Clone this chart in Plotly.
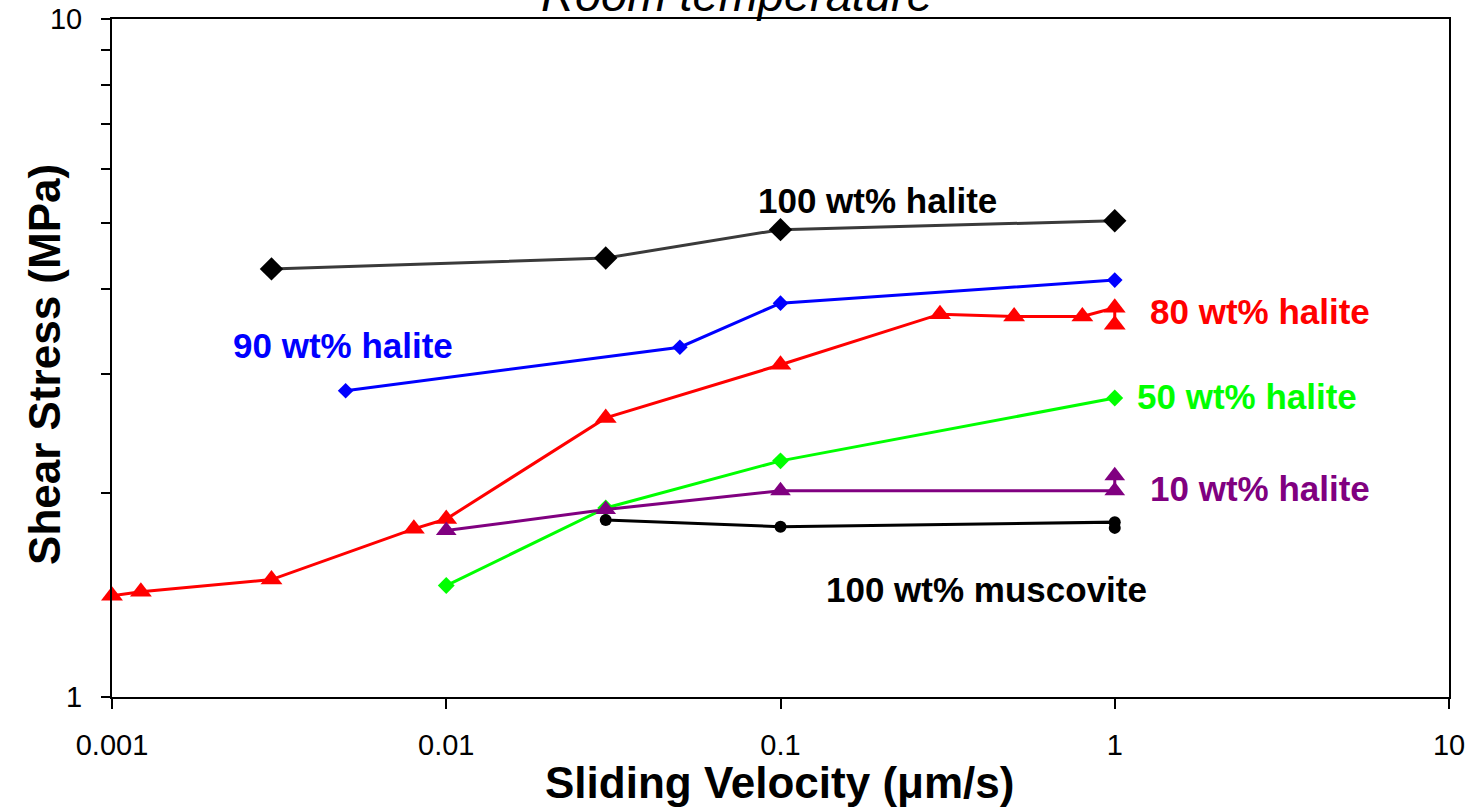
import plotly.graph_objects as go

# Sliding velocity (um/s) and shear stress (MPa) per mixture
halite100_v = [0.003, 0.03, 0.1, 1.0]
halite100_s = [4.28, 4.44, 4.89, 5.04]

halite90_v = [0.005, 0.05, 0.1, 1.0]
halite90_s = [2.83, 3.28, 3.81, 4.12]

halite80_v = [0.001, 0.00122, 0.003, 0.008, 0.01, 0.03, 0.1, 0.3, 0.5, 0.8, 1.0, 1.0]
halite80_s = [1.41, 1.43, 1.49, 1.77, 1.83, 2.58, 3.09, 3.67, 3.64, 3.64, 3.75, 3.54]

halite50_v = [0.01, 0.03, 0.1, 1.0]
halite50_s = [1.46, 1.90, 2.23, 2.76]

halite10_v = [0.01, 0.03, 0.1, 1.0, 1.0]
halite10_s = [1.76, 1.89, 2.015, 2.015, 2.12]

muscovite_v = [0.03, 0.1, 1.0, 1.0]
muscovite_s = [1.824, 1.783, 1.811, 1.776]

x_tick_vals = [0.001, 0.01, 0.1, 1, 10]
x_tick_text = ["0.001", "0.01", "0.1", "1", "10"]
y_tick_vals = [1, 10]
y_tick_text = ["1", "10"]
y_minor_vals = [2, 3, 4, 5, 6, 7, 8, 9]

FONT = "Liberation Sans, Arial, sans-serif"

series = [
    (halite100_v, halite100_s, "#3a3a3a", "#000000", "diamond", 18),
    (halite90_v, halite90_s, "#0000FF", "#0000FF", "diamond", 12),
    (halite80_v, halite80_s, "#FF0000", "#FF0000", "triangle-up", 19),
    (halite50_v, halite50_s, "#00FF00", "#00FF00", "diamond", 13),
    (halite10_v, halite10_s, "#800080", "#800080", "triangle-up", 18),
    (muscovite_v, muscovite_s, "#000000", "#000000", "circle", 12),
]

fig = go.Figure()
for xs, ys, lc, mc, sym, sz in series:
    fig.add_trace(go.Scatter(
        x=xs, y=ys, mode="lines+markers",
        line=dict(color=lc, width=3),
        marker=dict(symbol=sym, size=sz, color=mc, line=dict(width=0)),
        showlegend=False, cliponaxis=False,
    ))

# Series labels (positions in log10 axis units)
labels = [
    ("100 wt% halite", -0.711, 0.733, "center", "#000000"),
    ("90 wt% halite", -2.310, 0.519, "center", "#0000FF"),
    ("80 wt% halite", 0.0995, 0.568, "left", "#FF0000"),
    ("50 wt% halite", 0.0606, 0.4425, "left", "#00FF00"),
    ("10 wt% halite", 0.0995, 0.3068, "left", "#800080"),
    ("100 wt% muscovite", -0.385, 0.158, "center", "#000000"),
]
for text, lx, ly, anchor, col in labels:
    fig.add_annotation(
        x=lx, y=ly, xref="x", yref="y", text=text, showarrow=False,
        xanchor=anchor, yanchor="middle",
        font=dict(family=FONT, size=35, color=col, weight="bold"),
    )

# Title and axis titles
fig.add_annotation(
    x=0.4675, y=1, xref="paper", yref="paper", text="<i>Room temperature</i>",
    showarrow=False, xanchor="center", yanchor="bottom", yshift=-4,
    font=dict(family=FONT, size=47, color="#000000"),
)
fig.add_annotation(
    x=0.4995, y=-0.126, xref="paper", yref="paper", text="Sliding Velocity (\u03bcm/s)",
    showarrow=False, xanchor="center", yanchor="middle",
    font=dict(family=FONT, size=44, color="#000000", weight="bold"),
)
fig.add_annotation(
    x=-0.05, y=0.49, xref="paper", yref="paper", text="Shear Stress (MPa)",
    showarrow=False, xanchor="center", yanchor="middle", textangle=-90,
    font=dict(family=FONT, size=44, color="#000000", weight="bold"),
)

fig.update_xaxes(
    type="log", range=[-3, 1], automargin=False,
    tickmode="array", tickvals=x_tick_vals, ticktext=x_tick_text,
    ticks="outside", ticklen=10, tickwidth=1.5, tickcolor="#000000",
    showline=True, linecolor="#000000", linewidth=2, mirror=True,
    showgrid=False, zeroline=False,
    tickfont=dict(family=FONT, size=29, color="#000000"),
    ticklabelstandoff=11,
)
fig.update_yaxes(
    type="log", range=[0, 1], automargin=False,
    tickmode="array", tickvals=y_tick_vals, ticktext=y_tick_text,
    ticks="outside", ticklen=9, tickwidth=1.5, tickcolor="#000000",
    minor=dict(tickmode="array", tickvals=y_minor_vals, ticks="outside",
               ticklen=9, tickwidth=1.5, tickcolor="#000000", showgrid=False),
    showline=True, linecolor="#000000", linewidth=2, mirror=True,
    showgrid=False, zeroline=False,
    tickfont=dict(family=FONT, size=29, color="#000000"),
    ticklabelstandoff=13,
)

fig.update_layout(
    width=1469, height=809,
    margin=dict(l=112, r=20, t=19, b=112),
    paper_bgcolor="#FFFFFF", plot_bgcolor="#FFFFFF",
    showlegend=False,
)

fig.write_html("out.html")
